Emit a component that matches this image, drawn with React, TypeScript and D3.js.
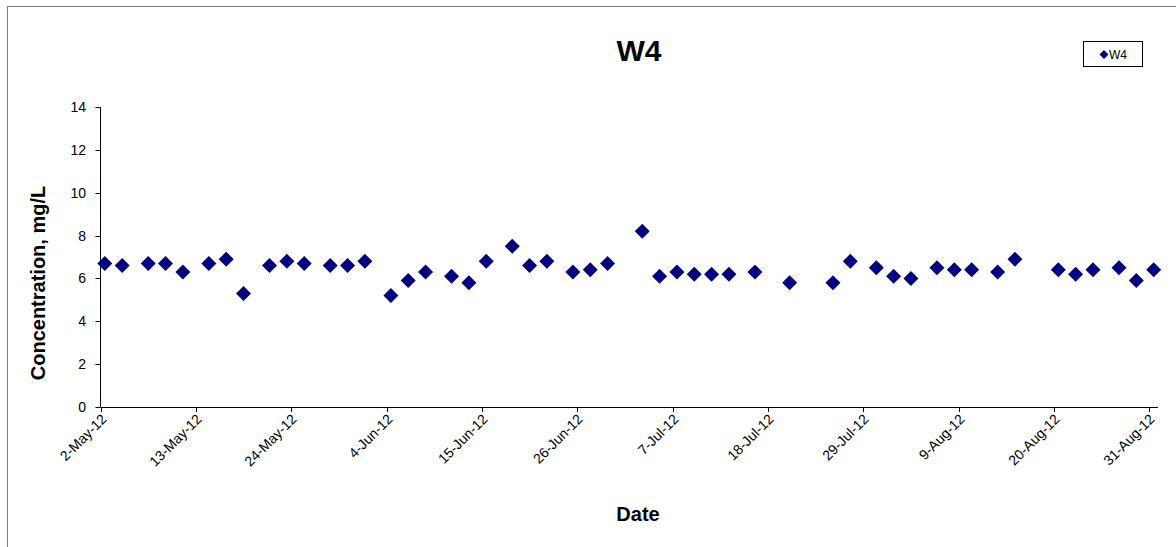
import React from "react";
import * as d3 from "d3";

const dates: string[] = [
  "2012-05-02", "2012-05-04", "2012-05-07", "2012-05-09", "2012-05-11", "2012-05-14",
  "2012-05-16", "2012-05-18", "2012-05-21", "2012-05-23", "2012-05-25", "2012-05-28",
  "2012-05-30", "2012-06-01", "2012-06-04", "2012-06-06", "2012-06-08", "2012-06-11",
  "2012-06-13", "2012-06-15", "2012-06-18", "2012-06-20", "2012-06-22", "2012-06-25",
  "2012-06-27", "2012-06-29", "2012-07-03", "2012-07-05", "2012-07-07", "2012-07-09",
  "2012-07-11", "2012-07-13", "2012-07-16", "2012-07-20", "2012-07-25", "2012-07-27",
  "2012-07-30", "2012-08-01", "2012-08-03", "2012-08-06", "2012-08-08", "2012-08-10",
  "2012-08-13", "2012-08-15", "2012-08-20", "2012-08-22", "2012-08-24", "2012-08-27",
  "2012-08-29", "2012-08-31",
];
const w4Values: number[] = [
  6.7, 6.6, 6.7, 6.7, 6.3, 6.7,
  6.9, 5.3, 6.6, 6.8, 6.7, 6.6,
  6.6, 6.8, 5.2, 5.9, 6.3, 6.1,
  5.8, 6.8, 7.5, 6.6, 6.8, 6.3,
  6.4, 6.7, 8.2, 6.1, 6.3, 6.2,
  6.2, 6.2, 6.3, 5.8, 5.8, 6.8,
  6.5, 6.1, 6.0, 6.5, 6.4, 6.4,
  6.3, 6.9, 6.4, 6.2, 6.4, 6.5,
  5.9, 6.4,
];
const xTickDates: string[] = [
  "2012-05-02", "2012-05-13", "2012-05-24", "2012-06-04", "2012-06-15", "2012-06-26",
  "2012-07-07", "2012-07-18", "2012-07-29", "2012-08-09", "2012-08-20", "2012-08-31",
];
const yTicks: number[] = [0, 2, 4, 6, 8, 10, 12, 14];
const xDomain: string[] = ["2012-05-02", "2012-09-01"];

const parse = (s: string, noon = false) => new Date(s + (noon ? "T12:00:00" : "T00:00:00"));
const months = ["Jan", "Feb", "Mar", "Apr", "May", "Jun", "Jul", "Aug", "Sep", "Oct", "Nov", "Dec"];
const fmt = (d: Date) => `${d.getDate()}-${months[d.getMonth()]}-${String(d.getFullYear()).slice(2)}`;

const diamond = (cx: number, cy: number, r: number) =>
  `M${cx},${cy - r}L${cx + r},${cy}L${cx},${cy + r}L${cx - r},${cy}Z`;

export default function App() {
  const W = 1176, H = 547;
  const left = 100.5, right = 1158, top = 107, bottom = 407;
  const x = d3.scaleTime().domain([parse(xDomain[0]), parse(xDomain[1])]).range([left, right]);
  const y = d3.scaleLinear().domain([0, 14]).range([bottom, top]);
  const font = "'Liberation Sans', Arial, sans-serif";
  const navy = "#000080";

  return (
    <svg width={W} height={H} style={{ position: "absolute", left: 0, top: 0 }} fontFamily={font}>
      <rect x={0} y={0} width={W} height={H} fill="#fff" />
      <rect x={7.5} y={6.5} width={1300} height={700} fill="none" stroke="#808080" strokeWidth={1} />
      <text x={639} y={61} textAnchor="middle" fontSize={30} fontWeight="bold">W4</text>

      {/* y axis */}
      <line x1={left} x2={left} y1={top} y2={bottom} stroke="#000" />
      {yTicks.map((t) => (
        <g key={t}>
          <line x1={left - 5} x2={left} y1={Math.round(y(t)) + 0.5} y2={Math.round(y(t)) + 0.5} stroke="#000" />
          <text x={86} y={y(t) + 5} textAnchor="end" fontSize={14}>{t}</text>
        </g>
      ))}
      {/* x axis */}
      <line x1={left} x2={right} y1={bottom + 0.5} y2={bottom + 0.5} stroke="#000" />
      {xTickDates.map((s) => {
        const d = parse(s);
        const px = Math.round(x(d)) + 0.5;
        return (
          <g key={s}>
            <line x1={px} x2={px} y1={bottom} y2={bottom + 5} stroke="#000" />
            <text
              transform={`translate(${px + 6},${bottom + 13}) rotate(-45)`}
              textAnchor="end"
              fontSize={14}
            >
              {fmt(d)}
            </text>
          </g>
        );
      })}

      <text
        transform={`translate(45,283) rotate(-90)`}
        textAnchor="middle"
        fontSize={20}
        fontWeight="bold"
      >
        Concentration, mg/L
      </text>
      <text x={638} y={521} textAnchor="middle" fontSize={20} fontWeight="bold">Date</text>

      {dates.map((s, i) => (
        <path key={s} d={diamond(x(parse(s, true)), y(w4Values[i]), 7.5)} fill={navy} />
      ))}

      {/* legend */}
      <rect x={1083.5} y={41.5} width={59} height={25} fill="#fff" stroke="#000" />
      <path d={diamond(1104, 54.5, 4.5)} fill={navy} />
      <text x={1109} y={59} fontSize={12}>W4</text>
    </svg>
  );
}
